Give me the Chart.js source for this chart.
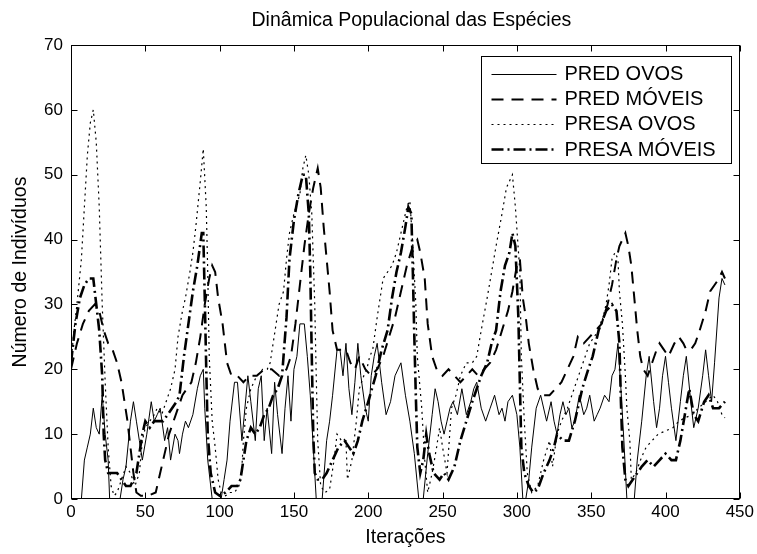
<!DOCTYPE html>
<html>
<head>
<meta charset="utf-8">
<script src="https://cdn.jsdelivr.net/npm/chart.js@4.4.1/dist/chart.umd.min.js"></script>
<style>
  html, body { margin: 0; padding: 0; background: #fff; }
</style>
</head>
<body>
<canvas id="popChart" width="757" height="554"></canvas>
<script>
// values (iteration, number of individuals)
const predOvosX = [0,4,7,9,11,13,15,17,19,21,23,25,26,30,33,35,37,40,42,44,46,48,51,54,56,58,60,63,65,67,70,72,73,75,77,79,82,85,87,89,90,92,95,101,103,105,107,110,112,115,117,119,121,124,126,128,130,132,135,137,139,142,144,146,148,150,152,154,157,159,161,163,165,169,172,174,176,179,181,183,185,187,189,191,193,195,198,200,202,204,206,209,212,215,218,222,225,228,231,234,237,240,243,245,247,249,251,253,255,257,260,263,266,269,271,273,276,279,282,285,288,290,292,294,297,300,302,304,306,308,310,313,316,320,323,325,327,329,331,333,335,337,339,342,345,347,349,352,354,356,359,362,364,366,368,370,372,374,379,381,384,387,389,392,394,396,398,400,402,404,407,410,412,414,417,419,422,425,427,429,431,433,436,438,440];
const predOvos  = [0,0,0,6,8,10,14,11,10,16,10,6,0,0,0,3,5,12,15,12,9,6,10,15,12,13,14,9,11,6,10,9,7,10,12,11,13,17,19,20,14,6,0,0,3,6,12,18,18,9,14,19,15,9,17,19,9,14,7,18,13,7,14,19,12,20,22,27,27,22,16,8,0,0,9,12,16,23,23,19,24,17,13,18,24,19,14,12,19,22,24,18,13,15,19,21,16,12,7,0,0,7,13,17,15,12,10,12,14,15,13,17,13,15,17,18,14,12,14,16,13,14,12,15,16,13,8,0,0,3,8,14,16,12,15,12,10,13,15,13,14,11,12,16,13,14,16,12,13,14,16,15,19,20,24,17,9,0,0,6,12,19,22,15,11,14,19,22,18,14,9,15,19,22,15,11,14,19,23,19,15,21,31,34,33];

const predMoveisX = [0,4,8,12,16,19,22,25,28,31,34,36,38,40,42,44,47,52,57,60,63,66,69,72,75,78,81,84,87,90,93,95,97,99,102,105,108,112,116,120,125,130,135,140,145,148,151,154,157,160,163,166,168,170,172,174,176,179,182,185,188,191,194,198,202,206,210,214,218,222,226,230,233,235,238,240,243,246,250,254,258,262,266,270,274,278,282,286,290,294,297,300,302,304,306,308,311,314,318,322,326,330,334,338,341,345,349,353,357,361,364,367,369,371,373,375,377,379,381,383,385,388,391,394,396,399,402,406,409,412,414,417,420,423,427,430,433,436,438,440];
const predMoveis  = [20,24,27,29,30,29,26,24,23,21,18,15,12,8,4,1,0.5,0.5,1,4,7,10,12,14,16,17,18,21,25,30,34,36,35,31,27,21,19,19,18,19,19,20,20,19,20,22,27,33,39,44,48,51,48,42,37,32,26,23,23,23,21,20,22,20,19,20,22,25,28,32,36,39,40,38,34,27,22,20,19,20,19,18,19,20,19,20,21,23,26,29,32,36,37,31,28,24,20,17,16,16,17,18,20,22,25,24,25,26,27,30,33,37,39,40,41,39,36,31,26,22,20,19,21,23,24,23,22,24,25,24,23,23,24,26,29,32,33,34,35,34];

const presaOvosX = [0,2,4,7,9,11,13,15,17,19,21,23,25,27,29,31,34,37,40,43,46,48,50,53,56,58,61,64,67,70,72,75,77,80,82,84,87,89,91,92,93,95,97,99,101,104,107,110,113,115,116,118,121,125,129,132,134,136,138,140,143,145,147,150,154,156,158,160,162,164,165,166,168,171,174,177,179,182,185,186,189,192,194,197,199,201,203,206,208,210,213,216,219,221,224,226,228,230,232,233,236,238,240,243,246,248,250,253,256,259,262,266,270,273,276,280,283,286,290,293,295,297,299,302,303,305,307,310,314,318,322,324,327,330,334,337,340,343,346,349,352,355,358,360,362,364,366,368,369,371,373,374,376,377,380,384,387,391,395,400,405,409,413,418,422,427,432,435,438,440];
const presaOvos  = [21,26,30,37,45,53,58,60,55,45,30,18,8,2,0.5,1,3,5,4,2,4,9,11,12,13,14,13,15,17,20,25,29,31,35,38,42,49,54,45,35,22,12,8,3,1,0.5,1,1,2,5,9,14,17,19,20,20,21,24,27,30,32,37,41,44,47,51,53,50,44,30,19,9,2,1,1.5,6,10,9,9,3,6,12,17,19,20,22,23,28,31,34,35,36,38,40,43,45,46,39,30,22,14,6,1,4,8,11,8,4,14,16,19,21,21,22,26,31,35,39,44,48,49,50,45,35,22,12,4,1,2,6,9,5,10,12,14,16,18,20,22,24,25,26,28,30,33,37,38,37,32,27,19,14,9,3,4,6.5,8,9,10,10.5,11,12,12.5,13,14,15,16,15,13,12.5];

const presaMoveisX = [0,3,6,9,12,15,17,19,21,22,23,25,28,31,34,37,40,44,46,48,50,53,56,59,62,65,68,71,73,76,79,82,85,88,89,90,91,92,94,97,100,104,108,112,114,116,118,121,124,127,130,133,136,139,142,145,147,150,153,156,158,160,161,162,163,164,166,169,172,176,180,184,187,190,193,196,200,205,209,213,216,219,222,225,227,229,230,231,232,233,235,237,239,241,244,248,251,254,258,262,266,270,273,276,280,283,286,289,292,295,297,299,301,302,303,305,308,311,314,318,322,325,327,331,335,339,344,348,351,355,360,364,367,369,370,371,373,375,378,381,384,388,392,396,400,404,407,410,413,416,419,422,426,429,432,436,440];
const presaMoveis  = [21,27,31,33,34,34,30,26,19,10,6,4,4,4,3,2,2,4,7,10,12,11,12,12,12,13,14,15,16,22,27,32,36,41,41,31,20,10,4,1,0.5,1,2,2,3,6,9,11,10,11,13,14,16,17,19,28,37,43,47,50,50,44,35,22,10,4,3,3,4,6,8,9,8,7,9,12,15,19,23,26,31,35,38,42,45,44,35,25,16,8,4,6,10,7,4,3,4,3,5,9,12,15,17,19,21,24,26,32,36,38,41,39,28,18,8,4,2,1,1.5,4,6,8,10,9,9,12,17,20,22,26,29,30,29,24,15,8,3,2,3,4,5,6,5,6,7,6,6,9,13,17,13,12,15,16,14,14,15];

const seriesNames = ['PRED OVOS', 'PRED MÓVEIS', 'PRESA OVOS', 'PRESA MÓVEIS'];
const chartTitle = 'Dinâmica Populacional das Espécies';
const xTickStep = 50;
const yTickStep = 10;

const FONT = "'Liberation Sans', Arial, Helvetica, sans-serif";

function pts(xs, ys) {
  return xs.map((x, i) => ({ x: x, y: ys[i] }));
}

// matlab style box with inward ticks on all four sides, title centred over the axes
const boxTicks = {
  id: 'boxTicks',
  afterDraw(chart) {
    const { ctx, chartArea: a, scales: { x, y } } = chart;
    const L = Math.round(a.left) + 0.5, R = Math.round(a.right) - 0.5;
    const T = Math.round(a.top) + 0.5, B = Math.round(a.bottom) - 0.5;
    ctx.save();
    ctx.strokeStyle = '#000';
    ctx.lineWidth = 1;
    ctx.setLineDash([]);
    ctx.strokeRect(L, T, R - L, B - T);
    ctx.beginPath();
    x.ticks.forEach(t => {
      const px = Math.round(x.getPixelForValue(t.value)) + 0.5;
      ctx.moveTo(px, B); ctx.lineTo(px, B - 6);
      ctx.moveTo(px, T); ctx.lineTo(px, T + 6);
    });
    y.ticks.forEach(t => {
      const py = Math.round(y.getPixelForValue(t.value)) + 0.5;
      ctx.moveTo(L, py); ctx.lineTo(L + 6, py);
      ctx.moveTo(R, py); ctx.lineTo(R - 6, py);
    });
    ctx.stroke();
    ctx.fillStyle = '#000';
    ctx.font = '19.5px ' + FONT;
    ctx.textAlign = 'center';
    ctx.textBaseline = 'middle';
    ctx.fillText(chartTitle, (a.left + a.right) / 2 + 6, 21);
    ctx.restore();
  }
};

// legend box in the top right corner of the axes
const boxLegend = {
  id: 'boxLegend',
  afterDatasetsDraw(chart) {
    const { ctx, chartArea: a } = chart;
    const w = 250, h = 107;
    const left = Math.round(a.right) - 9 - w + 0.5;
    const top = Math.round(a.top) + 11 + 0.5;
    ctx.save();
    ctx.fillStyle = '#fff';
    ctx.fillRect(left, top, w, h);
    ctx.strokeStyle = '#000';
    ctx.lineWidth = 1;
    ctx.strokeRect(left, top, w, h);
    chart.data.datasets.forEach((ds, i) => {
      const cy = top + 17 + i * 25.2;
      ctx.beginPath();
      ctx.lineWidth = ds.borderWidth;
      ctx.setLineDash(ds.borderDash || []);
      ctx.moveTo(left + 10, Math.round(cy) + 0.5);
      ctx.lineTo(left + 75, Math.round(cy) + 0.5);
      ctx.stroke();
      ctx.setLineDash([]);
      ctx.fillStyle = '#000';
      ctx.font = '20px ' + FONT;
      ctx.textBaseline = 'middle';
      ctx.fillText(ds.label, left + 83, cy + 1);
    });
    ctx.restore();
  }
};

const lineBase = { borderColor: '#000', pointRadius: 0, fill: false, tension: 0 };

new Chart(document.getElementById('popChart'), {
  type: 'line',
  data: {
    datasets: [
      Object.assign({ label: seriesNames[0], data: pts(predOvosX, predOvos), borderWidth: 1 }, lineBase),
      Object.assign({ label: seriesNames[1], data: pts(predMoveisX, predMoveis), borderWidth: 2, borderDash: [12, 8] }, lineBase),
      Object.assign({ label: seriesNames[2], data: pts(presaOvosX, presaOvos), borderWidth: 1.2, borderDash: [2, 4] }, lineBase),
      Object.assign({ label: seriesNames[3], data: pts(presaMoveisX, presaMoveis), borderWidth: 2.6, borderDash: [12, 4, 2, 4] }, lineBase)
    ]
  },
  options: {
    responsive: false,
    animation: false,
    devicePixelRatio: 1,
    layout: { padding: { left: 0, right: 17, top: 45, bottom: 0 } },
    plugins: {
      legend: { display: false },
      tooltip: { enabled: false },
      title: { display: false }
    },
    scales: {
      x: {
        type: 'linear',
        min: 0,
        max: 450,
        ticks: { stepSize: xTickStep, color: '#000', font: { family: FONT, size: 17 }, padding: 3, maxRotation: 0 },
        grid: { display: false, drawTicks: false },
        border: { display: false },
        title: { display: true, text: 'Iterações', color: '#000', font: { family: FONT, size: 19.5 }, padding: { top: 0, bottom: 5 } },
        afterFit: s => { s.height = 55; }
      },
      y: {
        min: 0,
        max: 70,
        ticks: { stepSize: yTickStep, color: '#000', font: { family: FONT, size: 17 }, padding: 8 },
        grid: { display: false, drawTicks: false },
        border: { display: false },
        title: { display: true, text: 'Número de Indivíduos', color: '#000', font: { family: FONT, size: 19.5 }, padding: { top: 9, bottom: 0 } },
        afterFit: s => { s.width = 71; }
      }
    }
  },
  plugins: [boxLegend, boxTicks]
});
</script>
</body>
</html>
